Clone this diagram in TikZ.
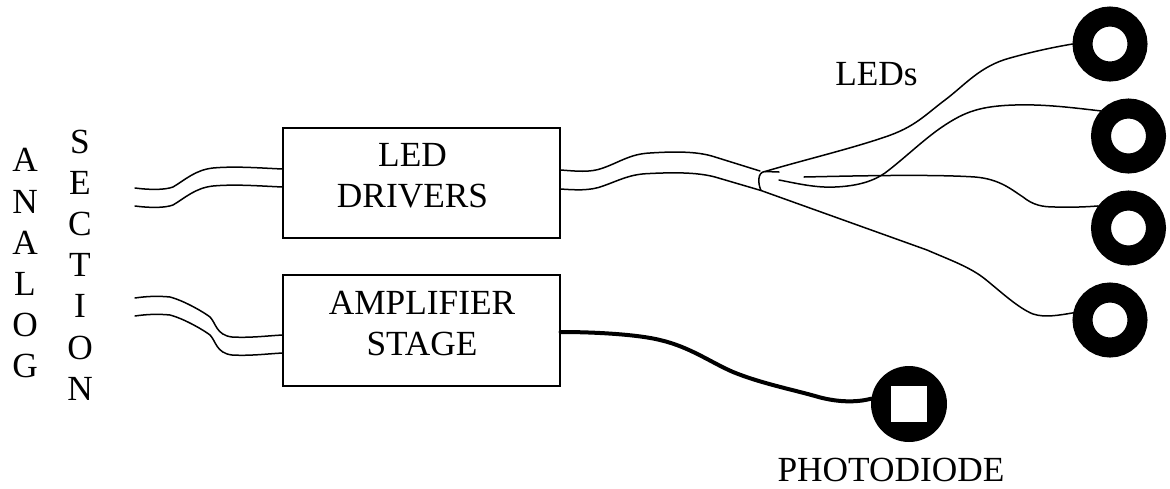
\documentclass[tikz,border=0pt]{standalone}
\usepackage{fontspec}
\setmainfont{Liberation Serif}
\tikzset{
  lbl/.style={font=\fontsize{35.3}{41}\selectfont,align=center,inner sep=0pt},
  col/.style={font=\fontsize{35.3}{41.2}\selectfont,align=center,inner sep=0pt},
  block/.style={draw,line width=1.6pt,inner sep=0pt,minimum width=276.5pt,minimum height=110pt},
  ledring/.style={circle,draw=black,fill=white,line width=20pt,minimum size=55pt,inner sep=0pt},
  wire/.style={line width=1.5pt,line cap=round,line join=round},
  thickwire/.style={line width=4pt,line cap=round,line join=round},
}
\begin{document}
\begin{tikzpicture}[x=1pt,y=-1pt]
\useasboundingbox (0,0) rectangle (1170,488);
\node[block] (drv) at (421.5,183) {};
\node[block,minimum height=111pt] (amp) at (421.5,330.5) {};
\node[lbl] (drvlbl) at (412.5,175.7) {LED\\DRIVERS};
\node[lbl] (amplbl) at (422,323.2) {AMPLIFIER\\STAGE};
\node[ledring] (l1) at (1110,44) {};
\node[ledring] (l2) at (1128.5,136) {};
\node[ledring] (l3) at (1128.5,228) {};
\node[ledring] (l4) at (1110,320) {};
\node[circle,fill=black,minimum size=76pt,inner sep=0pt] (pd) at (909,404) {};
\node[fill=white,minimum size=36pt,inner sep=0pt] (pdc) at (pd.center) {};
\node[lbl] (ledslbl) at (876.5,74) {LEDs};
\node[lbl] (pdlbl) at (891,470) {PHOTODIODE};
\node[col] (analog) at (25,263.5) {A\\N\\A\\L\\O\\G};
\node[col] (section) at (80,265) {S\\E\\C\\T\\I\\O\\N};
\coordinate (ja) at (760,171);
\coordinate (jc) at (765,171.5);
\coordinate (jb) at (761,190.5);
\coordinate (d1) at (135,188);
\coordinate (d2) at (135,206);
\coordinate (a1) at (135,298);
\coordinate (a2) at (135,316);
\coordinate (s1) at (779,172);
\coordinate (w2) at (779,180);
\coordinate (w3) at (804,177);
% analog section to blocks
\draw[wire] (d1) .. controls (150,190) and (165,190) .. (173,187) .. controls (185,180) and (195,170) .. (213,168) .. controls (235,166) and (260,168) .. (drv.west|-0,169);
\draw[wire] (d2) .. controls (150,208) and (165,208) .. (173,205) .. controls (185,198) and (195,188) .. (213,186) .. controls (235,184) and (260,186) .. (drv.west|-0,187);
\draw[wire] (a1) .. controls (148,296) and (160,296) .. (170,297) .. controls (185,301) and (205,313) .. (210,317) .. controls (216,323) and (216,335) .. (232,337) .. controls (250,338) and (265,336) .. (amp.west|-0,335);
\draw[wire] (a2) .. controls (148,314) and (160,314) .. (170,315) .. controls (185,319) and (205,331) .. (210,335) .. controls (216,341) and (216,353) .. (232,355) .. controls (250,356) and (265,354) .. (amp.west|-0,353);
% drivers to junction
\draw[wire] (drv.east|-0,170) .. controls (575,171) and (590,173) .. (603,168) .. controls (620,162) and (630,154) .. (650,153) .. controls (680,151) and (700,152) .. (715,157) -- (ja);
\draw[wire] (drv.east|-0,189) .. controls (575,190) and (590,191) .. (603,186) .. controls (620,180) and (630,174) .. (650,173.5) .. controls (680,172) and (700,173) .. (715,177) -- (jb);
\draw[wire] (jb) .. controls (758,184) and (757,172) .. (jc);
\draw[wire] (jc) -- (s1);
% junction to LEDs
\draw[wire] (jc) .. controls (800,161) and (850,149) .. (885,137) .. controls (915,127) and (925,115) .. (945,100) .. controls (965,85) and (980,66) .. (1010,58) .. controls (1035,51) and (1055,47) .. (l1.west);
\draw[wire] (w2) .. controls (795,183) and (815,188) .. (835,187) .. controls (860,186) and (875,180) .. (885,173) .. controls (905,158) and (925,138) .. (945,125) .. controls (965,112) and (980,106) .. (1015,105) .. controls (1045,104) and (1075,108) .. (l2.138);
\draw[wire] (w3) .. controls (850,176) and (930,174) .. (975,177) .. controls (1000,179) and (1012,190) .. (1023,197) .. controls (1033,205) and (1042,207) .. (1055,207) .. controls (1070,207.5) and (1085,207) .. (l3.144);
\draw[wire] (jb) -- (927,250) .. controls (950,260) and (970,267) .. (985,279) .. controls (1000,291) and (1018,308) .. (1033,314) .. controls (1045,318) and (1060,315) .. (l4.169);
\draw[thickwire] (amp.east|-0,332) .. controls (600,332) and (640,335) .. (660,340) .. controls (690,347) and (710,362) .. (733,372) .. controls (760,383) and (790,389) .. (815,396) .. controls (835,402) and (855,403) .. (pd.172);
\end{tikzpicture}
\end{document}
